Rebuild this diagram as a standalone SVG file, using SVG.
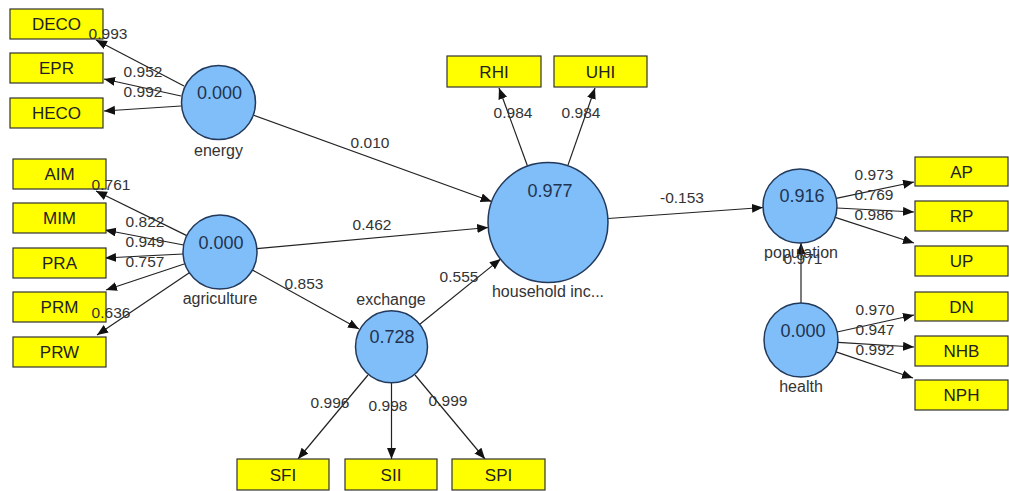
<svg xmlns="http://www.w3.org/2000/svg" width="1009" height="491" viewBox="0 0 1009 491">
<style>
.lv{fill:#7fbef8;stroke:#23395b;stroke-width:1.5}
.mv{fill:#ffff00;stroke:#333;stroke-width:1.2}
.val{font-family:"Liberation Sans",Arial,sans-serif;font-size:18px;fill:#1f3350;text-anchor:middle}
.nm{font-family:"Liberation Sans",Arial,sans-serif;font-size:16px;fill:#333;text-anchor:middle}
.bx{font-family:"Liberation Sans",Arial,sans-serif;font-size:17px;fill:#222;text-anchor:middle}
.pl{font-family:"Liberation Sans",Arial,sans-serif;font-size:15.5px;fill:#333;text-anchor:middle}
.c{stroke:#222;stroke-width:1.2;fill:none;marker-end:url(#ah)}
</style>
<defs>
<marker id="ah" markerUnits="userSpaceOnUse" markerWidth="12" markerHeight="10" refX="11" refY="4.5" orient="auto">
<path d="M0,0 L11,4.5 L0,9 z" fill="#111"/>
</marker>
</defs>
<rect width="1009" height="491" fill="#fff"/>
<g id="connectors">
<line class="c" x1="184" y1="86" x2="96" y2="40"/>
<line class="c" x1="181" y1="96" x2="104" y2="79"/>
<line class="c" x1="181" y1="106" x2="104" y2="111"/>
<line class="c" x1="253.7" y1="115.3" x2="491.6" y2="201.5"/>
<line class="c" x1="186.8" y1="235.6" x2="96" y2="191"/>
<line class="c" x1="183.7" y1="245" x2="105" y2="230"/>
<line class="c" x1="183" y1="254" x2="105" y2="258"/>
<line class="c" x1="184.9" y1="263.7" x2="106" y2="290"/>
<line class="c" x1="189.3" y1="272.7" x2="97" y2="335"/>
<line class="c" x1="256.8" y1="248.6" x2="488.2" y2="227.5"/>
<line class="c" x1="252.4" y1="270" x2="359" y2="329"/>
<line class="c" x1="419.5" y1="324.5" x2="500.7" y2="258.9"/>
<line class="c" x1="368" y1="375" x2="298" y2="459"/>
<line class="c" x1="391.5" y1="383" x2="391.5" y2="459"/>
<line class="c" x1="415" y1="375" x2="485" y2="459"/>
<line class="c" x1="527.4" y1="165.7" x2="499" y2="88"/>
<line class="c" x1="567.9" y1="165.4" x2="595" y2="88"/>
<line class="c" x1="608" y1="218.5" x2="763" y2="207.5"/>
<line class="c" x1="836.2" y1="198.4" x2="914" y2="182"/>
<line class="c" x1="837" y1="208" x2="914" y2="212"/>
<line class="c" x1="835.2" y1="217.4" x2="914" y2="243"/>
<line class="c" x1="801" y1="303" x2="801" y2="243"/>
<line class="c" x1="837.1" y1="332" x2="914" y2="315"/>
<line class="c" x1="837.9" y1="342.3" x2="914" y2="347"/>
<line class="c" x1="836" y1="351.9" x2="913" y2="378"/>
</g>
<g id="energy">
<circle class="lv" cx="218.5" cy="102.5" r="37"/>
<text class="val" x="219.5" y="99">0.000</text>
<text class="nm" x="218.5" y="156">energy</text>
</g>
<g id="agriculture">
<circle class="lv" cx="220" cy="252" r="37"/>
<text class="val" x="221" y="249">0.000</text>
<text class="nm" x="220" y="304">agriculture</text>
</g>
<g id="exchange">
<circle class="lv" cx="391.5" cy="346.7" r="36"/>
<text class="val" x="392" y="343">0.728</text>
<text class="nm" x="391" y="305">exchange</text>
</g>
<g id="household">
<circle class="lv" cx="548" cy="222.5" r="60"/>
<text class="val" x="550" y="197">0.977</text>
<text class="nm" x="548" y="297">household inc...</text>
</g>
<g id="population">
<circle class="lv" cx="800" cy="206" r="37"/>
<text class="val" x="802" y="202">0.916</text>
<text class="nm" x="801" y="258">population</text>
</g>
<g id="health">
<circle class="lv" cx="801" cy="340" r="37"/>
<text class="val" x="803" y="337">0.000</text>
<text class="nm" x="801" y="392">health</text>
</g>
<g id="DECO"><rect class="mv" x="10" y="9" width="93" height="30"/><text class="bx" x="56.5" y="30">DECO</text></g>
<g id="EPR"><rect class="mv" x="10" y="53" width="93" height="30"/><text class="bx" x="56.5" y="74">EPR</text></g>
<g id="HECO"><rect class="mv" x="10" y="98" width="93" height="30"/><text class="bx" x="56.5" y="119">HECO</text></g>
<g id="AIM"><rect class="mv" x="13" y="159" width="93" height="30"/><text class="bx" x="59.5" y="180">AIM</text></g>
<g id="MIM"><rect class="mv" x="13" y="203" width="93" height="30"/><text class="bx" x="59.5" y="224">MIM</text></g>
<g id="PRA"><rect class="mv" x="13" y="248" width="93" height="30"/><text class="bx" x="59.5" y="269">PRA</text></g>
<g id="PRM"><rect class="mv" x="13" y="292" width="93" height="30"/><text class="bx" x="59.5" y="313">PRM</text></g>
<g id="PRW"><rect class="mv" x="13" y="337" width="93" height="30"/><text class="bx" x="59.5" y="358">PRW</text></g>
<g id="RHI"><rect class="mv" x="447" y="56" width="94" height="31"/><text class="bx" x="494" y="77.5">RHI</text></g>
<g id="UHI"><rect class="mv" x="554" y="56" width="93" height="31"/><text class="bx" x="600.5" y="77.5">UHI</text></g>
<g id="SFI"><rect class="mv" x="237" y="459" width="92" height="31"/><text class="bx" x="283" y="480.5">SFI</text></g>
<g id="SII"><rect class="mv" x="345" y="459" width="92" height="31"/><text class="bx" x="391" y="480.5">SII</text></g>
<g id="SPI"><rect class="mv" x="452" y="459" width="93" height="31"/><text class="bx" x="498.5" y="480.5">SPI</text></g>
<g id="AP"><rect class="mv" x="915" y="157" width="93" height="29"/><text class="bx" x="961.5" y="177.5">AP</text></g>
<g id="RP"><rect class="mv" x="915" y="201" width="93" height="30"/><text class="bx" x="961.5" y="222">RP</text></g>
<g id="UP"><rect class="mv" x="915" y="246" width="93" height="30"/><text class="bx" x="961.5" y="267">UP</text></g>
<g id="DN"><rect class="mv" x="915" y="292" width="93" height="29"/><text class="bx" x="961.5" y="312.5">DN</text></g>
<g id="NHB"><rect class="mv" x="915" y="336" width="93" height="30"/><text class="bx" x="961.5" y="357">NHB</text></g>
<g id="NPH"><rect class="mv" x="915" y="380" width="93" height="30"/><text class="bx" x="961.5" y="401">NPH</text></g>
<g id="path-labels">
<text class="pl" x="108" y="38.5">0.993</text>
<text class="pl" x="143" y="77">0.952</text>
<text class="pl" x="143" y="97">0.992</text>
<text class="pl" x="370" y="148">0.010</text>
<text class="pl" x="111" y="190">0.761</text>
<text class="pl" x="145" y="227">0.822</text>
<text class="pl" x="145" y="247">0.949</text>
<text class="pl" x="145" y="267">0.757</text>
<text class="pl" x="111" y="318">0.636</text>
<text class="pl" x="372" y="230">0.462</text>
<text class="pl" x="304" y="289">0.853</text>
<text class="pl" x="459" y="282">0.555</text>
<text class="pl" x="330" y="408">0.996</text>
<text class="pl" x="388" y="411">0.998</text>
<text class="pl" x="448" y="406">0.999</text>
<text class="pl" x="513" y="118">0.984</text>
<text class="pl" x="581" y="118">0.984</text>
<text class="pl" x="682" y="203">-0.153</text>
<text class="pl" x="874" y="180">0.973</text>
<text class="pl" x="874" y="200">0.769</text>
<text class="pl" x="874" y="220">0.986</text>
<text class="pl" x="875" y="315">0.970</text>
<text class="pl" x="875" y="335">0.947</text>
<text class="pl" x="875" y="355">0.992</text>
<text class="pl" x="803" y="264">0.971</text>
</g>
</svg>
